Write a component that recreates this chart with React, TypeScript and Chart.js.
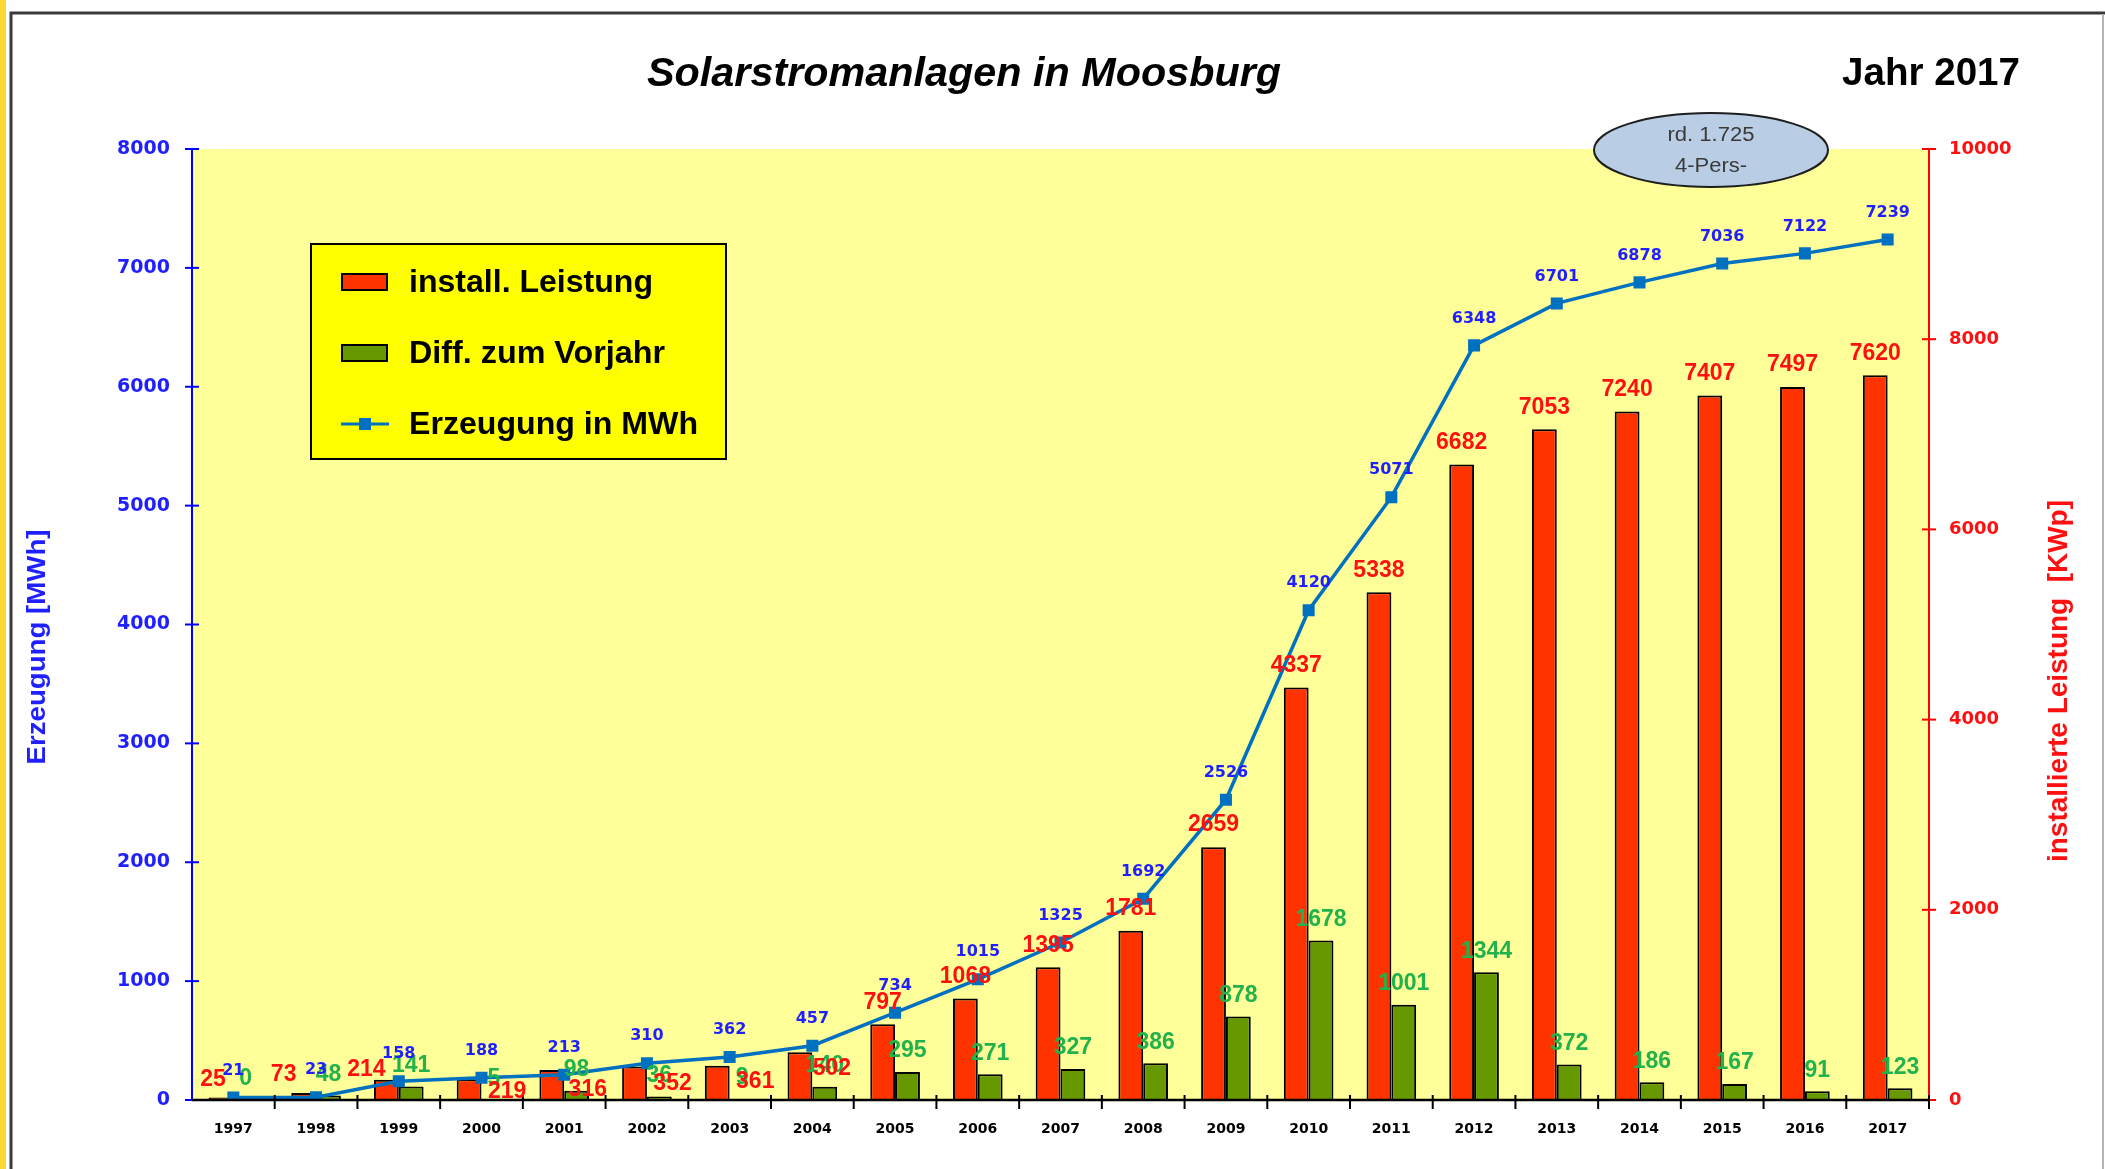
import React, { useEffect, useRef } from 'react';
import { Chart, registerables } from 'chart.js';

Chart.register(...registerables);

// ---------------- data ----------------
const years = ['1997', '1998', '1999', '2000', '2001', '2002', '2003', '2004', '2005', '2006', '2007', '2008', '2009', '2010', '2011', '2012', '2013', '2014', '2015', '2016', '2017'];
const installedKWp = [25, 73, 214, 219, 316, 352, 361, 502, 797, 1068, 1395, 1781, 2659, 4337, 5338, 6682, 7053, 7240, 7407, 7497, 7620];
const diffKWp = [0, 48, 141, 5, 98, 36, 9, 140, 295, 271, 327, 386, 878, 1678, 1001, 1344, 372, 186, 167, 91, 123];
const productionMWh = [21, 23, 158, 188, 213, 310, 362, 457, 734, 1015, 1325, 1692, 2526, 4120, 5071, 6348, 6701, 6878, 7036, 7122, 7239];

const seriesNames = ['install. Leistung', 'Diff. zum Vorjahr', 'Erzeugung in MWh'];
const chartTitle = 'Solarstromanlagen in Moosburg';
const yearNote = 'Jahr 2017';
const calloutLines = ['rd. 1.725', '4-Pers-'];
const leftAxisTitle = 'Erzeugung [MWh]';
const rightAxisTitle = 'installierte Leistung  [KWp]';
const leftAxisMax = 8000;
const leftAxisStep = 1000;
const rightAxisMax = 10000;
const rightAxisStep = 2000;

// ---------------- style ----------------
const W = 2105;
const H = 1169;
const AREA = { left: 192, right: 1929, top: 149, bottom: 1100 };
const RED = '#ff3300';
const GREEN = '#669900';
const LINE_BLUE = '#0070c0';
const TXT_BLUE = '#1f1fff';
const TXT_RED = '#ff1010';
const TXT_GREEN = '#22b24c';
// manual label nudges (px) for the crowded early years, like in the original
const redLabelNudge: [number, number][] = [
  [-8, 4], [-20, 4], [-20, 12], [38, 34], [36, 42], [38, 39], [38, 38], [32, 38],
];

const SANS = '"Liberation Sans", Arial, sans-serif';
const WIDE = '"DejaVu Sans", Verdana, sans-serif';

function drawText(
  ctx: CanvasRenderingContext2D,
  text: string,
  x: number,
  y: number,
  font: string,
  color: string,
  opts: { width?: number; align?: CanvasTextAlign; rotate?: number } = {}
) {
  ctx.save();
  ctx.font = font;
  ctx.fillStyle = color;
  ctx.textBaseline = 'middle';
  ctx.textAlign = opts.align || 'center';
  const w = ctx.measureText(text).width;
  const s = opts.width ? opts.width / w : 1;
  ctx.translate(x, y);
  if (opts.rotate) ctx.rotate(opts.rotate);
  ctx.scale(s, 1);
  ctx.fillText(text, 0, 0);
  ctx.restore();
}

const decorPlugin = {
  id: 'decor',
  beforeDraw(chart: any) {
    const { ctx, chartArea } = chart;
    ctx.save();
    ctx.fillStyle = '#ffffff';
    ctx.fillRect(0, 0, W, H);
    ctx.fillStyle = '#ffff99';
    ctx.fillRect(chartArea.left, chartArea.top, chartArea.right - chartArea.left, chartArea.bottom - chartArea.top);
    ctx.restore();
  },
  afterDatasetsDraw(chart: any) {
    const { ctx, chartArea } = chart;
    const { left, right, top, bottom } = chartArea;
    ctx.save();
    // axes lines
    ctx.lineWidth = 2;
    ctx.strokeStyle = '#0000ff';
    ctx.beginPath();
    ctx.moveTo(left, top - 1);
    ctx.lineTo(left, bottom);
    ctx.stroke();
    ctx.strokeStyle = '#ff0000';
    ctx.beginPath();
    ctx.moveTo(right, top - 1);
    ctx.lineTo(right, bottom);
    ctx.stroke();
    // ticks on y axes (cross)
    const yS = chart.scales.y;
    yS.ticks.forEach((t: any) => {
      const py = yS.getPixelForValue(t.value);
      ctx.strokeStyle = '#0000ff';
      ctx.beginPath();
      ctx.moveTo(left - 7, py);
      ctx.lineTo(left + 7, py);
      ctx.stroke();
    });
    const y1S = chart.scales.y1;
    y1S.ticks.forEach((t: any) => {
      const py = y1S.getPixelForValue(t.value);
      ctx.strokeStyle = '#ff0000';
      ctx.beginPath();
      ctx.moveTo(right - 7, py);
      ctx.lineTo(right + 7, py);
      ctx.stroke();
    });
    // x axis
    ctx.strokeStyle = '#000000';
    ctx.lineWidth = 2.5;
    ctx.beginPath();
    ctx.moveTo(left, bottom);
    ctx.lineTo(right, bottom);
    ctx.stroke();
    ctx.lineWidth = 2;
    const n = years.length;
    const cw = (right - left) / n;
    for (let i = 1; i <= n; i++) {
      const px = left + cw * i;
      ctx.beginPath();
      ctx.moveTo(px, bottom - 5);
      ctx.lineTo(px, bottom + 9);
      ctx.stroke();
    }
    ctx.restore();

    // data labels
    const redMeta = chart.getDatasetMeta(1);
    const greenMeta = chart.getDatasetMeta(2);
    const lineMeta = chart.getDatasetMeta(0);
    const labelFont = `bold 23px ${SANS}`;
    greenMeta.data.forEach((el: any, i: number) => {
      drawText(ctx, String(diffKWp[i]), el.x, el.y - 21, labelFont, TXT_GREEN);
    });
    redMeta.data.forEach((el: any, i: number) => {
      const nd = redLabelNudge[i] || [0, 0];
      drawText(ctx, String(installedKWp[i]), el.x + nd[0], el.y - 22 + nd[1], labelFont, TXT_RED);
    });
    lineMeta.data.forEach((el: any, i: number) => {
      drawText(ctx, String(productionMWh[i]), el.x, el.y - 27, `bold 16px ${WIDE}`, TXT_BLUE);
    });
  },
  afterDraw(chart: any) {
    const { ctx } = chart;
    ctx.save();
    // frame
    ctx.fillStyle = '#ffd633';
    ctx.fillRect(0, 0, 6, H);
    ctx.strokeStyle = '#3a3a3a';
    ctx.lineWidth = 3;
    ctx.beginPath();
    ctx.moveTo(11, H);
    ctx.lineTo(11, 13);
    ctx.lineTo(W, 13);
    ctx.stroke();
    ctx.strokeStyle = '#b5b5b5';
    ctx.lineWidth = 2;
    ctx.beginPath();
    ctx.moveTo(2103, 14);
    ctx.lineTo(2103, H);
    ctx.stroke();

    // titles
    drawText(ctx, chartTitle, 964, 75, `italic bold 40px ${SANS}`, '#000', { width: 634 });
    drawText(ctx, yearNote, 2020, 75, `bold 38px ${SANS}`, '#000', { width: 178, align: 'right' });

    // axis titles
    drawText(ctx, leftAxisTitle, 38, 647, `bold 25px ${SANS}`, TXT_BLUE, { width: 235, rotate: -Math.PI / 2 });
    drawText(ctx, rightAxisTitle, 2060, 681, `bold 27px ${SANS}`, TXT_RED, { width: 362, rotate: -Math.PI / 2 });

    // legend box
    ctx.fillStyle = '#ffff00';
    ctx.fillRect(311, 244, 415, 215);
    ctx.strokeStyle = '#000';
    ctx.lineWidth = 2;
    ctx.strokeRect(311, 244, 415, 215);
    const rows = [282, 353, 424];
    const widths = [244, 256, 289];
    const fills = [RED, GREEN];
    for (let i = 0; i < 2; i++) {
      ctx.fillStyle = fills[i];
      ctx.fillRect(342, rows[i] - 8, 45, 16);
      ctx.lineWidth = 2;
      ctx.strokeStyle = '#000';
      ctx.strokeRect(342, rows[i] - 8, 45, 16);
    }
    ctx.strokeStyle = LINE_BLUE;
    ctx.lineWidth = 3;
    ctx.beginPath();
    ctx.moveTo(341, rows[2]);
    ctx.lineTo(389, rows[2]);
    ctx.stroke();
    ctx.fillStyle = LINE_BLUE;
    ctx.fillRect(359, rows[2] - 6, 12, 12);
    seriesNames.forEach((s, i) => {
      drawText(ctx, s, 409, rows[i] + 1, `bold 31px ${SANS}`, '#000', { width: widths[i], align: 'left' });
    });

    // callout ellipse
    ctx.beginPath();
    ctx.ellipse(1711, 150, 117, 37, 0, 0, Math.PI * 2);
    ctx.fillStyle = '#b9cde5';
    ctx.fill();
    ctx.lineWidth = 2;
    ctx.strokeStyle = '#1e1e1e';
    ctx.stroke();
    drawText(ctx, calloutLines[0], 1711, 135, `20px ${SANS}`, '#3a3a3a', { width: 87 });
    drawText(ctx, calloutLines[1], 1711, 166, `20px ${SANS}`, '#3a3a3a', { width: 72 });
    ctx.restore();
  },
};

export default function App() {
  const ref = useRef<HTMLCanvasElement | null>(null);
  useEffect(() => {
    document.body.style.margin = '0';
    document.body.style.overflow = 'hidden';
    const canvas = ref.current;
    if (!canvas) return;
    const chart = new Chart(canvas, {
      type: 'bar',
      data: {
        labels: years,
        datasets: [
          {
            type: 'line',
            label: seriesNames[2],
            data: productionMWh,
            yAxisID: 'y',
            borderColor: LINE_BLUE,
            backgroundColor: LINE_BLUE,
            borderWidth: 3.5,
            pointStyle: 'rect',
            pointRadius: 8.5,
            pointBackgroundColor: LINE_BLUE,
            pointBorderWidth: 0,
            tension: 0,
            order: 0,
          } as any,
          {
            type: 'bar',
            label: seriesNames[0],
            data: installedKWp,
            yAxisID: 'y1',
            backgroundColor: RED,
            borderColor: '#000',
            borderWidth: 2,
            categoryPercentage: 0.6,
            barPercentage: 1,
            order: 1,
          },
          {
            type: 'bar',
            label: seriesNames[1],
            data: diffKWp,
            yAxisID: 'y1',
            backgroundColor: GREEN,
            borderColor: '#000',
            borderWidth: 2,
            categoryPercentage: 0.6,
            barPercentage: 1,
            order: 1,
          },
        ],
      },
      options: {
        responsive: false,
        animation: false,
        devicePixelRatio: 1,
        layout: { padding: { top: AREA.top, left: 0, right: 0, bottom: 0 } },
        plugins: { legend: { display: false }, title: { display: false }, tooltip: { enabled: false } },
        scales: {
          x: {
            grid: { display: false },
            border: { display: false },
            ticks: { color: '#000', font: { family: 'DejaVu Sans', size: 14, weight: 'bold' }, padding: 13, maxRotation: 0, autoSkip: false },
            afterFit: (s: any) => { s.height = H - AREA.bottom; },
          },
          y: {
            position: 'left',
            min: 0,
            max: leftAxisMax,
            grid: { display: false },
            border: { display: false },
            ticks: { stepSize: leftAxisStep, color: TXT_BLUE, font: { family: 'DejaVu Sans', size: 19, weight: 'bold' }, padding: 14, callback: (v: any) => String(v) },
            afterFit: (s: any) => { s.width = AREA.left; },
          },
          y1: {
            position: 'right',
            min: 0,
            max: rightAxisMax,
            grid: { display: false },
            border: { display: false },
            ticks: { stepSize: rightAxisStep, color: TXT_RED, font: { family: 'DejaVu Sans', size: 18, weight: 'bold' }, padding: 12, callback: (v: any) => String(v) },
            afterFit: (s: any) => { s.width = W - AREA.right; },
          },
        },
      },
      plugins: [decorPlugin],
    });
    return () => chart.destroy();
  }, []);
  return (
    <div style={{ width: W, height: H, position: 'relative', overflow: 'hidden' }}>
      <canvas ref={ref} width={W} height={H} style={{ display: 'block', width: W, height: H }} />
    </div>
  );
}
